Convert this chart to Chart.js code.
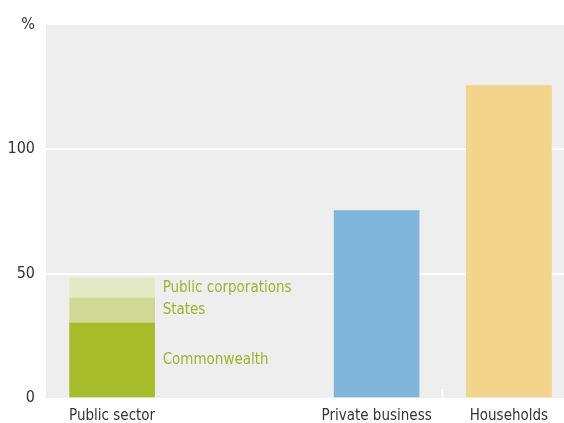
<!DOCTYPE html>
<html>
<head>
<meta charset="utf-8">
<script src="https://cdn.jsdelivr.net/npm/chart.js@4"></script>
<style>
  html, body { margin: 0; padding: 0; background: #fff; overflow: hidden; }
  #wrap { width: 575px; height: 423px; }
</style>
</head>
<body>
<div id="wrap"><canvas id="chart"></canvas></div>
<script>
const categories = ['Public sector', '', 'Private business', 'Households'];
const commonwealth = [30.1, null, null, null];
const states = [10.1, null, null, null];
const publicCorporations = [8.0, null, null, null];
const privateBusiness = [null, null, 75.4, null];
const households = [null, null, null, 125.6];
const yTicks = [0, 50, 100, 150];

const FONT = "'DejaVu Sans Condensed', 'Liberation Sans Narrow', sans-serif";
const LABEL_GREEN = '#9db52c';

// grey plot background + small white divider tick
const plotBackground = {
  id: 'plotBackground',
  beforeDraw(chart) {
    const { ctx, chartArea } = chart;
    ctx.save();
    ctx.fillStyle = '#eeeeee';
    ctx.fillRect(chartArea.left, chartArea.top, chartArea.right - chartArea.left, chartArea.bottom - chartArea.top);
    ctx.restore();
  },
  afterDatasetsDraw(chart) {
    const { ctx, chartArea, scales } = chart;
    const x = Math.round(scales.x.getPixelForValue(2.5)) - 0.5;
    ctx.save();
    ctx.strokeStyle = '#ffffff';
    ctx.lineWidth = 2;
    ctx.beginPath();
    ctx.moveTo(x, chartArea.bottom);
    ctx.lineTo(x, chartArea.bottom - 9);
    ctx.stroke();
    ctx.restore();
  },
};

// series names next to the stacked public sector bar
const segmentLabels = {
  id: 'segmentLabels',
  afterDatasetsDraw(chart) {
    const { ctx } = chart;
    ctx.save();
    ctx.fillStyle = LABEL_GREEN;
    ctx.font = '15px ' + FONT;
    ctx.textAlign = 'left';
    ctx.textBaseline = 'middle';
    [0, 1, 2].forEach(i => {
      const bar = chart.getDatasetMeta(i).data[0];
      ctx.fillText(chart.data.datasets[i].label, bar.x + bar.width / 2 + 8, (bar.y + bar.base) / 2);
    });
    ctx.restore();
  },
};

new Chart(document.getElementById('chart'), {
  type: 'bar',
  data: {
    labels: categories,
    datasets: [
      { label: 'Commonwealth', data: commonwealth, backgroundColor: '#a6bc2a' },
      { label: 'States', data: states, backgroundColor: '#cfd894' },
      { label: 'Public corporations', data: publicCorporations, backgroundColor: '#e3eac5' },
      { label: 'Private business', data: privateBusiness, backgroundColor: '#80b6da' },
      { label: 'Households', data: households, backgroundColor: '#f2d58b' },
    ],
  },
  options: {
    responsive: true,
    maintainAspectRatio: false,
    animation: false,
    layout: { padding: { top: 25, right: 0, bottom: 0, left: 0 } },
    datasets: { bar: { barThickness: 85, borderWidth: 0 } },
    plugins: { legend: { display: false }, tooltip: { enabled: false } },
    scales: {
      x: {
        stacked: true,
        afterFit(scale) { scale.height = 25; },
        grid: { display: false, drawTicks: false },
        border: { display: false },
        ticks: { color: '#333333', font: { family: FONT, size: 15 }, padding: 9, maxRotation: 0 },
      },
      y: {
        stacked: true,
        min: 0,
        max: 150,
        afterFit(scale) { scale.width = 46; },
        afterBuildTicks(scale) { scale.ticks = yTicks.map(v => ({ value: v })); },
        grid: {
          color: ctx => (ctx.tick && (ctx.tick.value === 50 || ctx.tick.value === 100) ? '#ffffff' : 'rgba(0,0,0,0)'),
          lineWidth: 2,
          drawTicks: false,
        },
        border: { display: false },
        ticks: {
          color: '#333333',
          font: { family: FONT, size: 16 },
          padding: 11,
          callback: v => (v === 150 ? '%' : v),
        },
      },
    },
  },
  plugins: [plotBackground, segmentLabels],
});
</script>
</body>
</html>
